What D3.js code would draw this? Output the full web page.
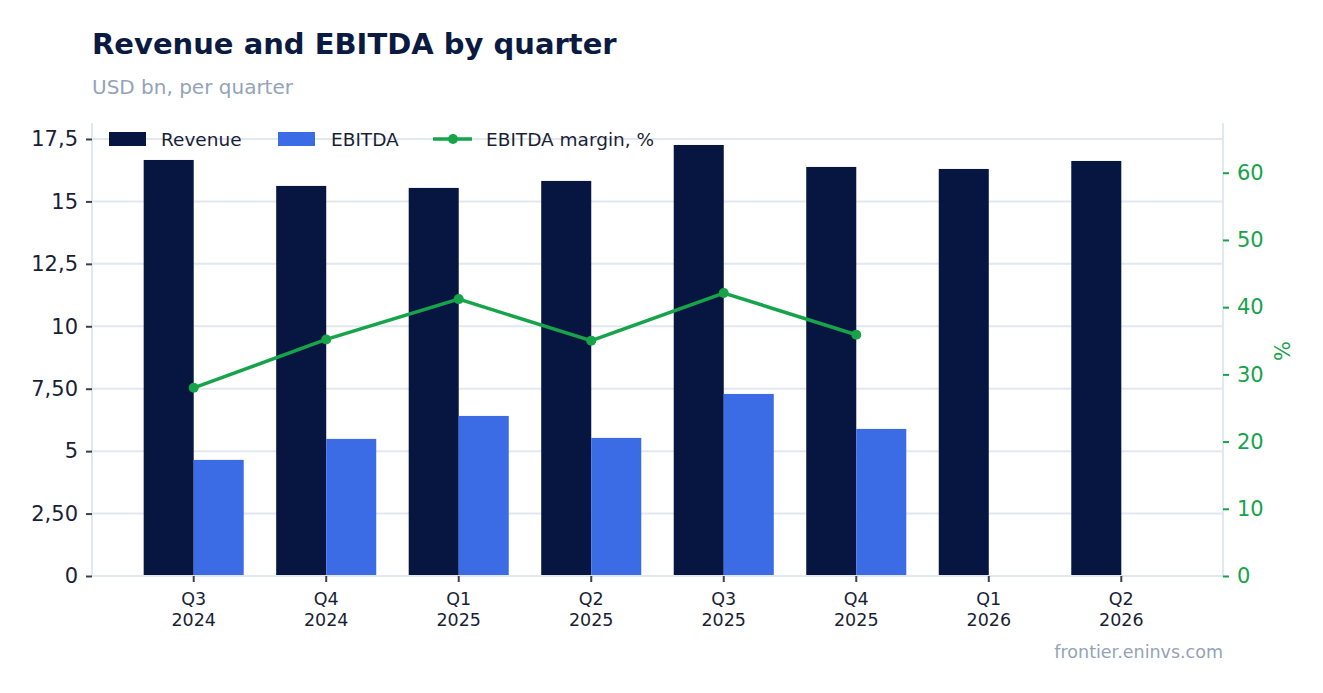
<!DOCTYPE html>
<html><head><meta charset="utf-8">
<script src="https://cdn.jsdelivr.net/npm/d3@7"></script>
<style>body{margin:0;background:#fff;font-family:"DejaVu Sans",sans-serif;}</style>
</head><body><svg id="c" width="1323" height="693"></svg>
<script>
const quarters = ["Q3 2024","Q4 2024","Q1 2025","Q2 2025","Q3 2025","Q4 2025","Q1 2026","Q2 2026"];
const revenue = [16.66, 15.62, 15.54, 15.82, 17.26, 16.38, 16.30, 16.62];
const ebitda = [4.65, 5.49, 6.41, 5.53, 7.29, 5.89, null, null];
const margin = [28.0, 35.2, 41.2, 35.0, 42.1, 35.9, null, null];
const leftTicks = [0, 2.5, 5, 7.5, 10, 12.5, 15, 17.5];
const leftTickLabels = ["0","2,50","5","7,50","10","12,5","15","17,5"];
const rightTicks = [0,10,20,30,40,50,60];

const svg = d3.select("#c");
const L=92, R=1223, T=123, B=576;
const C_REV="#061640", C_EB="#3b6ce6", C_GR="#16a34a", GRID="#e2e8f0", TXT="#1a1f36";

const x = d3.scaleBand().domain(quarters).range([L,R]).paddingInner(0.245).paddingOuter(0.39);
const yL = d3.scaleLinear().domain([0,18.14]).range([B,T]);
const yR = d3.scaleLinear().domain([0,67.4]).range([B,T]);

svg.append("text").attr("x",92).attr("y",54).attr("font-size",29).attr("font-weight","bold").attr("fill","#0b1a40").text("Revenue and EBITDA by quarter");
svg.append("text").attr("x",92).attr("y",94).attr("font-size",20).attr("fill","#94a3b8").text("USD bn, per quarter");

// grid
svg.append("g").selectAll("line").data(leftTicks).join("line")
  .attr("x1",L).attr("x2",R).attr("y1",d=>yL(d)).attr("y2",d=>yL(d)).attr("stroke",GRID).attr("stroke-width",2);
// axes frame lines
svg.append("line").attr("x1",L).attr("x2",L).attr("y1",T).attr("y2",B).attr("stroke",GRID).attr("stroke-width",2);
svg.append("line").attr("x1",R).attr("x2",R).attr("y1",T).attr("y2",B).attr("stroke",GRID).attr("stroke-width",2);

const bw = x.bandwidth()/2;
svg.append("g").selectAll("rect").data(quarters).join("rect")
  .attr("x",d=>x(d)).attr("width",bw).attr("y",(d,i)=>yL(revenue[i])).attr("height",(d,i)=>B-yL(revenue[i])).attr("fill",C_REV);
svg.append("g").selectAll("rect").data(quarters.filter((d,i)=>ebitda[i]!=null)).join("rect")
  .attr("x",d=>x(d)+bw).attr("width",bw).attr("y",d=>yL(ebitda[quarters.indexOf(d)])).attr("height",d=>B-yL(ebitda[quarters.indexOf(d)])).attr("fill",C_EB);

// bottom axis line
svg.append("line").attr("x1",L).attr("x2",R).attr("y1",B).attr("y2",B).attr("stroke",GRID).attr("stroke-width",2);

// margin line
const mpts = quarters.map((q,i)=>[q,margin[i]]).filter(d=>d[1]!=null);
const line = d3.line().x(d=>x(d[0])+bw).y(d=>yR(d[1]));
svg.append("path").datum(mpts).attr("d",line).attr("fill","none").attr("stroke",C_GR).attr("stroke-width",3.5);
svg.append("g").selectAll("circle").data(mpts).join("circle").attr("cx",d=>x(d[0])+bw).attr("cy",d=>yR(d[1])).attr("r",5).attr("fill",C_GR);

// left axis
const gl = svg.append("g").attr("transform",`translate(${L},0)`)
  .call(d3.axisLeft(yL).tickValues(leftTicks).tickFormat((d,i)=>leftTickLabels[i]).tickSize(6).tickPadding(8));
gl.select(".domain").remove();
gl.selectAll(".tick line").attr("stroke","#3a4050").attr("stroke-width",2);
gl.selectAll("text").attr("font-size",21).attr("fill",TXT).attr("font-family","DejaVu Sans");

// right axis
const gr = svg.append("g").attr("transform",`translate(${R},0)`)
  .call(d3.axisRight(yR).tickValues(rightTicks).tickSize(6).tickPadding(8));
gr.select(".domain").remove();
gr.selectAll(".tick line").attr("stroke",C_GR).attr("stroke-width",2);
gr.selectAll("text").attr("font-size",21).attr("fill",C_GR).attr("font-family","DejaVu Sans");
svg.append("text").attr("transform",`translate(1290,351) rotate(-90)`).attr("text-anchor","middle").attr("font-size",21).attr("fill",C_GR).text("%");

// x axis
const gx = svg.append("g").attr("transform",`translate(0,${B})`)
  .call(d3.axisBottom(x).tickSize(6).tickFormat(""));
gx.select(".domain").remove();
gx.selectAll(".tick line").attr("stroke","#3a4050").attr("stroke-width",2);
const xl = svg.append("g").selectAll("text").data(quarters).join("text")
  .attr("x",d=>x(d)+bw).attr("y",605).attr("text-anchor","middle").attr("font-size",17.5).attr("fill",TXT);
xl.append("tspan").attr("x",d=>x(d)+bw).text(d=>d.split(" ")[0]);
xl.append("tspan").attr("x",d=>x(d)+bw).attr("dy",21).text(d=>d.split(" ")[1]);

// legend
const lg = svg.append("g").attr("font-size",18.5).attr("fill",TXT);
lg.append("rect").attr("x",109).attr("y",132).attr("width",37).attr("height",14).attr("fill",C_REV);
lg.append("text").attr("x",161).attr("y",146).attr("fill",TXT).text("Revenue");
lg.append("rect").attr("x",278).attr("y",132).attr("width",37).attr("height",14).attr("fill",C_EB);
lg.append("text").attr("x",331).attr("y",146).attr("fill",TXT).text("EBITDA");
lg.append("line").attr("x1",433).attr("x2",472).attr("y1",139).attr("y2",139).attr("stroke",C_GR).attr("stroke-width",3.5);
lg.append("circle").attr("cx",453).attr("cy",139).attr("r",5).attr("fill",C_GR);
lg.append("text").attr("x",486).attr("y",146).attr("fill",TXT).text("EBITDA margin, %");

svg.append("text").attr("x",1223).attr("y",658).attr("text-anchor","end").attr("font-size",17.5).attr("fill","#94a3b8").text("frontier.eninvs.com");
</script></body></html>
